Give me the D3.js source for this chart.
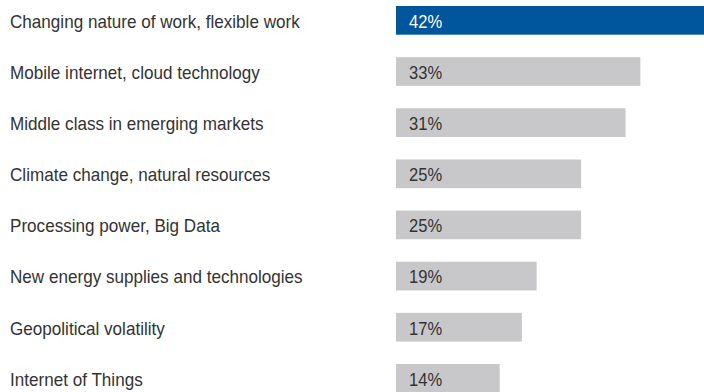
<!DOCTYPE html>
<html>
<head>
<meta charset="utf-8">
<script src="https://cdn.jsdelivr.net/npm/d3@7"></script>
<style>
  body { margin: 0; background: #fff; }
  text { font-family: "Liberation Sans", Arial, sans-serif; font-size: 18px; }
</style>
</head>
<body>
<div id="chart"></div>
<script>
const categories = [
    "Changing nature of work, flexible work",
    "Mobile internet, cloud technology",
    "Middle class in emerging markets",
    "Climate change, natural resources",
    "Processing power, Big Data",
    "New energy supplies and technologies",
    "Geopolitical volatility",
    "Internet of Things"
];
const values = [42, 33, 31, 25, 25, 19, 17, 14];
const highlighted = [true, false, false, false, false, false, false, false];

const width = 704, height = 392;

const svg = d3.select("#chart")
    .append("svg")
    .attr("width", width)
    .attr("height", height);

const x = d3.scaleLinear()
    .domain([0, 42])
    .range([396, 707]);

const y = d3.scaleBand()
    .domain(categories)
    .range([6, 392.7])
    .paddingInner(0.439)
    .paddingOuter(0);

const rows = svg.selectAll("g.row")
    .data(categories)
    .enter()
    .append("g")
    .attr("class", "row")
    .attr("transform", d => `translate(0, ${y(d)})`);

// the original uses a condensed face, squeeze the text a bit horizontally
rows.append("text")
    .attr("transform", `translate(10, ${y.bandwidth() / 2 + 1}) scale(0.95, 1)`)
    .attr("dy", "0.35em")
    .attr("fill", "#333")
    .text(d => d);

rows.append("rect")
    .attr("x", x(0))
    .attr("width", (d, i) => x(values[i]) - x(0))
    .attr("height", y.bandwidth())
    .attr("fill", (d, i) => highlighted[i] ? "#00569c" : "#c8c8ca");

rows.append("text")
    .attr("transform", `translate(${x(0) + 13}, ${y.bandwidth() / 2 + 1}) scale(0.92, 1)`)
    .attr("dy", "0.35em")
    .attr("fill", (d, i) => highlighted[i] ? "#fff" : "#333")
    .text((d, i) => values[i] + "%");
</script>
</body>
</html>
